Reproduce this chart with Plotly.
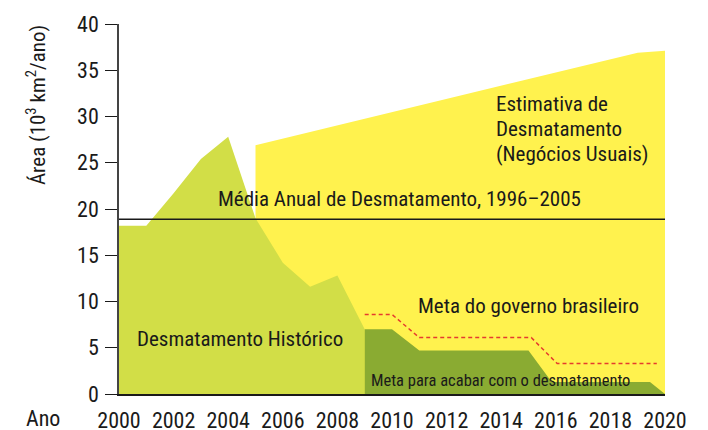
import plotly.graph_objects as go

# Historical deforestation (10^3 km2/yr)
hist_years = [2000, 2001, 2002, 2003, 2004, 2005, 2006, 2007, 2008, 2009]
hist_values = [18.2, 18.2, 21.7, 25.4, 27.8, 19.0, 14.2, 11.6, 12.8, 7.0]

# Business-as-usual estimate
bau_years = [2005, 2019, 2020]
bau_values = [26.9, 36.9, 37.1]

# Target to end deforestation (dark green)
end_years = [2009, 2010, 2011, 2015, 2015.85, 2019.45, 2020]
end_values = [7.0, 7.0, 4.7, 4.7, 1.3, 1.3, 0.0]

# Brazilian government target (red dashed)
gov_years = [2009, 2010, 2011, 2015.1, 2016.05, 2019.7]
gov_values = [8.6, 8.6, 6.1, 6.1, 3.3, 3.3]

# Mean annual deforestation 1996-2005
mean_value = 18.9
mean_years = [2000, 2020]

x_ticks = [2000, 2002, 2004, 2006, 2008, 2010, 2012, 2014, 2016, 2018, 2020]
y_ticks = [0, 5, 10, 15, 20, 25, 30, 35, 40]

YELLOW = "#FFF24E"
LGREEN = "#D2DE47"
DGREEN = "#8AAB32"
RED = "#E53B2E"
INK = "#1a1a1a"
FONT = "Roboto Condensed, Liberation Sans, sans-serif"

# page has an 8px body margin: figure occupies page x 8..708, y 8..430
OFF = 8
W, H = 700, 422
L, R, T, B = 111, 43, 16, 36

fig = go.Figure()

fig.add_trace(go.Scatter(
    x=[bau_years[0]] + bau_years + [bau_years[-1]],
    y=[0] + bau_values + [0],
    fill="toself", fillcolor=YELLOW, mode="lines", line=dict(width=0),
    hoverinfo="skip", showlegend=False))

fig.add_trace(go.Scatter(
    x=hist_years, y=hist_values, fill="tozeroy", fillcolor=LGREEN,
    mode="lines", line=dict(width=0), hoverinfo="skip", showlegend=False))

fig.add_trace(go.Scatter(
    x=end_years, y=end_values, fill="tozeroy", fillcolor=DGREEN,
    mode="lines", line=dict(width=0), hoverinfo="skip", showlegend=False))

fig.add_trace(go.Scatter(
    x=gov_years, y=gov_values, mode="lines",
    line=dict(color=RED, width=1.5, dash="4px,3px"),
    hoverinfo="skip", showlegend=False))

fig.add_trace(go.Scatter(
    x=mean_years, y=[mean_value, mean_value], mode="lines",
    line=dict(color=INK, width=1.5), hoverinfo="skip", showlegend=False))


def px_ann(text, page_x, page_y, anchor="left", size=21, angle=0):
    fx = page_x - OFF
    fy = page_y - OFF
    return dict(text=text, xref="paper", yref="paper",
                x=(fx - L) / (W - L - R), y=(H - B - fy) / (H - T - B),
                xanchor=anchor, yanchor="middle", showarrow=False,
                textangle=angle, font=dict(family=FONT, size=size, color=INK))


annotations = [
    px_ann("Média Anual de Desmatamento, 1996–2005", 216, 199),
    px_ann("Estimativa de", 494, 104),
    px_ann("Desmatamento", 494, 129),
    px_ann("(Negócios Usuais)", 494, 154),
    px_ann("Meta do governo brasileiro", 416, 306),
    px_ann("Desmatamento Histórico", 135, 339),
    px_ann("Meta para acabar com o desmatamento", 369, 380, size=16.5),
    px_ann("Área (10<sup>3</sup> km<sup>2</sup>/ano)", 36, 105, anchor="center", angle=-90),
    px_ann("Ano", 43, 418, anchor="center", size=22),
]

fig.update_layout(
    width=W, height=H,
    margin=dict(l=L, r=R, t=T, b=B, pad=0, autoexpand=False),
    plot_bgcolor="white", paper_bgcolor="white",
    font=dict(family=FONT, size=22, color=INK),
    annotations=annotations,
    xaxis=dict(range=[2000, 2020], tickvals=x_ticks, ticks="",
               showgrid=False, zeroline=False, showline=True, automargin=False,
               linecolor=INK, linewidth=2, ticklabelstandoff=6,
               tickfont=dict(family=FONT, size=22, color=INK)),
    yaxis=dict(range=[0, 40], tickvals=y_ticks, ticks="outside", ticklen=12,
               tickcolor=INK, tickwidth=1.2, automargin=False,
               showgrid=False, zeroline=False, showline=True,
               linecolor="#444", linewidth=1.5, ticklabelstandoff=2,
               tickfont=dict(family=FONT, size=22, color=INK)),
)

fig.write_html("out.html")
